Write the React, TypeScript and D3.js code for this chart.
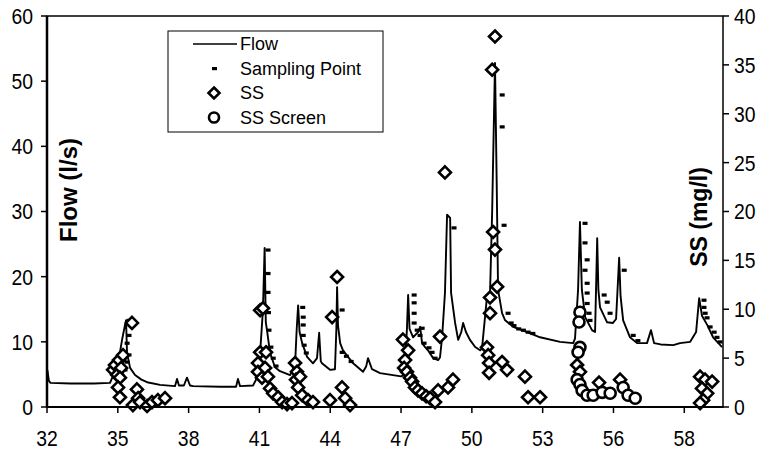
import React from "react";
import * as d3 from "d3";

// ---------- DATA ----------
// Flow (l/s) time series: [day, flow]
const flowSeries: [number, number][] = [
  [32.0, 4.0], [32.02, 5.6], [32.08, 4.0], [32.15, 3.7], [33.0, 3.6], [34.0, 3.6], [34.67, 3.7],
  [34.8, 4.8], [34.95, 6.5], [35.05, 7.5], [35.18, 10.3], [35.3, 12.5], [35.35, 13.3], [35.39, 8.3],
  [35.52, 6.0], [35.73, 4.9], [36.0, 4.2], [36.24, 3.8], [36.79, 3.4], [37.42, 3.2], [37.51, 4.3],
  [37.59, 3.3], [37.8, 3.3], [37.93, 4.5], [38.06, 3.3], [38.19, 3.2], [39.33, 3.1], [40.01, 3.1],
  [40.09, 4.3], [40.18, 3.2], [40.73, 3.3], [40.9, 4.5], [41.03, 8.3], [41.15, 15], [41.22, 24.4],
  [41.27, 13], [41.32, 11.8], [41.45, 8.3], [41.66, 6.1], [41.87, 5.5], [42.3, 4.9], [42.51, 6.5],
  [42.58, 12], [42.64, 15.6], [42.7, 11.5], [42.81, 9.8], [43.02, 7.7], [43.27, 6.7], [43.44, 7.5],
  [43.53, 11.4], [43.6, 7.0], [43.65, 6.7], [43.99, 5.7], [44.2, 5.8], [44.26, 12], [44.29, 18.4],
  [44.33, 12.5], [44.42, 9.8], [44.54, 8.7], [44.97, 6.7], [45.39, 5.4], [45.52, 6.2], [45.6, 7.5],
  [45.77, 5.8], [46.11, 5.2], [47.0, 4.7], [47.08, 4.8], [47.17, 7], [47.25, 12], [47.3, 17.2],
  [47.36, 12], [47.51, 10.7], [47.72, 11.5], [47.81, 12.3], [47.89, 9.8], [48.02, 9.2], [48.14, 8.7],
  [48.36, 7.5], [48.57, 7.2], [48.65, 7.6], [48.74, 10.7], [48.78, 13], [48.86, 17.5], [48.95, 29.5],
  [49.08, 29], [49.12, 17.5], [49.29, 12.9], [49.42, 10.3], [49.55, 11.5], [49.63, 12.9], [49.75, 11.5],
  [49.92, 10.3], [50.14, 9.2], [50.35, 8.7], [50.43, 9.0], [50.64, 16.9], [50.77, 17.5], [50.86, 30],
  [50.98, 52.8], [51.05, 35], [51.11, 18], [51.28, 14.4], [51.41, 13.3], [51.75, 12.3], [52.34, 11.5],
  [52.89, 10.7], [53.74, 10.0], [54.29, 9.8], [54.37, 10.5], [54.5, 18], [54.58, 28.4], [54.66, 18],
  [54.8, 13.8], [55.09, 11.8], [55.22, 11.5], [55.31, 25.9], [55.36, 18], [55.43, 15.3], [55.73, 13.0],
  [55.98, 12.9], [56.11, 13.5], [56.24, 22.9], [56.3, 17], [56.41, 13.3], [56.7, 10.7], [57.0, 9.8],
  [57.42, 9.8], [57.59, 11.8], [57.72, 9.8], [58.0, 9.6], [58.53, 9.5], [58.82, 9.8], [59.25, 10.0],
  [59.5, 11.5], [59.63, 16.7], [59.75, 14.0], [59.97, 12.6], [60.22, 10.7], [60.6, 9.2],
];

// Sampling points on the flow curve: [day, flow]
const samplingPoints: [number, number][] = [
  [35.39, 13.3], [35.39, 11], [35.31, 9.8], [35.39, 8.0], [35.31, 6.9], [35.22, 5.7],
  [41.28, 24.1], [41.28, 20.5], [41.28, 17.6], [41.3, 14.5], [41.32, 11.8], [41.4, 9.2], [41.5, 7.5], [41.62, 6.3],
  [42.75, 15.3], [42.77, 13.8], [42.77, 12.6], [42.77, 11.0], [42.81, 9.5], [42.9, 8.3],
  [44.42, 14.9], [44.42, 8.4], [44.6, 7.8], [44.8, 7.0],
  [47.47, 17.2], [47.47, 16.0], [47.47, 14.4], [47.47, 12.9], [47.6, 11.8], [47.81, 12.1], [47.72, 11],
  [47.89, 9.8], [48.1, 9.1], [48.23, 8.4], [48.36, 7.5],
  [49.16, 27.5],
  [51.2, 47.9], [51.2, 43], [51.28, 27.9], [51.45, 14.4], [51.58, 12.9], [51.7, 12.5], [51.9, 12.0],
  [52.1, 11.8], [52.3, 11.5], [52.5, 11.3],
  [54.71, 28.2], [54.71, 25.2], [54.8, 22.6], [54.71, 21], [54.8, 19], [54.8, 17.5], [54.8, 15.9],
  [54.88, 14.4], [54.92, 13.3],
  [55.52, 17.2], [55.65, 16.1], [55.77, 14.4],
  [56.37, 21.0], [56.75, 11], [56.95, 10.2],
  [59.75, 16.4], [59.75, 15.3], [59.8, 14.4], [59.88, 13.7], [60.01, 12.3], [60.18, 11.5], [60.3, 10.7], [60.43, 10.0],
];

// SS (mg/l), diamonds: [day, SS]
const ssPoints: [number, number][] = [
  [34.8, 3.8], [34.88, 4.3], [34.97, 3.3], [35.05, 4.8], [35.14, 4.0], [35.09, 3.0], [35.22, 5.3],
  [35.01, 2.0], [35.6, 8.6], [35.09, 1.0], [35.81, 1.8], [35.86, 0.9], [35.64, 0.2], [35.94, 0.5],
  [36.24, 0.1], [36.45, 0.5], [36.7, 0.7], [37.0, 0.9],
  [40.94, 4.5], [41.03, 9.9], [41.15, 10.1], [41.03, 5.6], [41.28, 5.6], [40.94, 3.6], [41.11, 3.0],
  [41.24, 4.0], [41.36, 3.1], [41.45, 1.9], [41.58, 1.4], [41.79, 1.0], [41.96, 0.5], [42.17, 0.3], [42.38, 0.4],
  [42.51, 4.5], [42.59, 3.6], [42.55, 2.8], [42.64, 2.0], [42.72, 3.1], [42.81, 1.2], [43.06, 0.7], [43.27, 0.5],
  [43.99, 0.7],
  [44.29, 13.3], [44.08, 9.2], [44.5, 2.0], [44.63, 0.9], [44.84, 0.2],
  [47.08, 6.9], [47.3, 5.8], [47.17, 4.8], [47.13, 4.0], [47.25, 3.6], [47.38, 3.0], [47.47, 2.6],
  [47.59, 2.0], [47.72, 1.7], [47.89, 1.4], [48.06, 1.1], [48.23, 0.9], [48.44, 0.5], [48.57, 1.7],
  [48.65, 7.2],
  [48.86, 24.0], [48.99, 2.0], [49.2, 2.8],
  [50.98, 37.9], [50.86, 34.5], [50.9, 17.9], [50.98, 16.1], [51.07, 12.3], [50.77, 11.2], [50.77, 9.6],
  [50.64, 6.1], [50.69, 5.3], [50.73, 4.5], [50.73, 3.5], [51.28, 4.6], [51.49, 3.8], [52.25, 3.1],
  [52.38, 1.0], [52.89, 1.0],
  [54.46, 4.3], [54.58, 3.6], [55.39, 2.5], [56.28, 2.8],
  [59.67, 3.1], [59.88, 2.8], [60.18, 2.6], [59.75, 1.9], [59.97, 1.4], [59.8, 0.7], [59.67, 0.4],
];

// SS Screen (mg/l), circles: [day, SS]
const ssScreenPoints: [number, number][] = [
  [54.58, 9.7], [54.54, 8.7], [54.58, 6.1], [54.5, 5.6], [54.46, 2.8], [54.58, 2.3], [54.67, 1.7],
  [54.88, 1.2], [55.14, 1.2], [55.52, 1.5], [55.86, 1.4], [56.41, 2.0], [56.62, 1.2], [56.92, 0.9],
];

const xTickValues = [32, 35, 38, 41, 44, 47, 50, 53, 56, 59];
const xTickLabels = ["32", "35", "38", "41", "44", "47", "50", "53", "56", "58"];
const yLeftTicks = [0, 10, 20, 30, 40, 50, 60];
const yRightTicks = [0, 5, 10, 15, 20, 25, 30, 35, 40];
const legendLabels = ["Flow", "Sampling Point", "SS", "SS Screen"];

// ---------- LAYOUT ----------
const W = 773;
const H = 452;
const M = { left: 47, right: 723, top: 16, bottom: 407 };
const FONT = "'Liberation Sans', Arial, Helvetica, sans-serif";
const SX = 0.88; // horizontal squeeze of the tick label glyphs

export default function App() {
  const x = d3.scaleLinear().domain([32, 60.64]).range([M.left, M.right]);
  const yL = d3.scaleLinear().domain([0, 60]).range([M.bottom, M.top]);
  const yR = d3.scaleLinear().domain([0, 40]).range([M.bottom, M.top]);

  const line = d3
    .line<[number, number]>()
    .x((d) => x(d[0]))
    .y((d) => yL(d[1]));

  const diamond = (cx: number, cy: number, r = 6) =>
    `M${cx},${cy - r}L${cx + r},${cy}L${cx},${cy + r}L${cx - r},${cy}Z`;

  const legX = 168;
  const legY = 31;
  const rowH = 24.5;

  return (
    <svg
      width={W}
      height={H}
      style={{ position: "absolute", left: 0, top: 0, background: "#fff" }}
      fontFamily={FONT}
    >
      <rect x={0} y={0} width={W} height={H} fill="#fff" />

      {/* flow line */}
      <path d={line(flowSeries) || ""} fill="none" stroke="#000" strokeWidth={1.9} strokeLinejoin="round" />

      {/* sampling points */}
      {samplingPoints.map((d, i) => (
        <rect key={"sp" + i} x={x(d[0]) - 0.5} y={yL(d[1]) - 1.5} width={5} height={3.2} fill="#000" />
      ))}

      {/* SS diamonds */}
      {ssPoints.map((d, i) => (
        <path key={"ss" + i} d={diamond(x(d[0]), yR(d[1]))} fill="#fff" stroke="#000" strokeWidth={2.6} />
      ))}

      {/* SS screen circles */}
      {ssScreenPoints.map((d, i) => (
        <circle key={"sc" + i} cx={x(d[0])} cy={yR(d[1])} r={5.5} fill="#fff" stroke="#000" strokeWidth={2.6} />
      ))}

      {/* frame */}
      <rect
        x={M.left}
        y={M.top}
        width={M.right - M.left}
        height={M.bottom - M.top}
        fill="none"
        stroke="#000"
        strokeWidth={1.5}
      />
      <line x1={M.left} x2={M.left} y1={M.top} y2={M.bottom} stroke="#000" strokeWidth={2.5} />
      <line x1={M.left} x2={M.right} y1={M.bottom} y2={M.bottom} stroke="#000" strokeWidth={2} />

      {/* left axis */}
      {yLeftTicks.map((t) => (
        <g key={"yl" + t}>
          <line x1={M.left - 6} x2={M.left} y1={yL(t)} y2={yL(t)} stroke="#000" strokeWidth={1.5} />
          <text
            transform={`translate(33,${yL(t)}) scale(${SX},1)`}
            dy="0.36em"
            textAnchor="end"
            fontSize={22}
          >
            {t}
          </text>
        </g>
      ))}

      {/* right axis */}
      {yRightTicks.map((t) => (
        <g key={"yr" + t}>
          <line x1={M.right} x2={M.right + 6} y1={yR(t)} y2={yR(t)} stroke="#000" strokeWidth={1.5} />
          <text
            transform={`translate(734,${yR(t)}) scale(${SX},1)`}
            dy="0.36em"
            textAnchor="start"
            fontSize={22}
          >
            {t}
          </text>
        </g>
      ))}

      {/* bottom axis */}
      {xTickValues.map((t, i) => (
        <g key={"x" + t}>
          <line x1={x(t)} x2={x(t)} y1={M.bottom} y2={M.bottom + 6} stroke="#000" strokeWidth={1.5} />
          <text
            transform={`translate(${x(t)},446) scale(${SX},1)`}
            textAnchor="middle"
            fontSize={22}
          >
            {xTickLabels[i]}
          </text>
        </g>
      ))}

      {/* axis titles */}
      <text
        transform={`translate(${77},${190}) rotate(-90)`}
        textAnchor="middle"
        fontSize={24}
        fontWeight="bold"
      >
        Flow (l/s)
      </text>
      <text
        transform={`translate(${707},${217}) rotate(-90)`}
        textAnchor="middle"
        fontSize={23}
        fontWeight="bold"
      >
        SS (mg/l)
      </text>

      {/* legend */}
      <g>
        <rect x={legX} y={legY} width={215} height={101} fill="#fff" stroke="#000" strokeWidth={1} />
        {legendLabels.map((lab, i) => {
          const cy = legY + 13 + i * rowH;
          return (
            <g key={lab}>
              {i === 0 && <line x1={193} x2={237} y1={cy} y2={cy} stroke="#000" strokeWidth={1.6} />}
              {i === 1 && <rect x={212} y={cy - 1.5} width={5} height={3.2} fill="#000" />}
              {i === 2 && <path d={diamond(214, cy, 5.5)} fill="#fff" stroke="#000" strokeWidth={2.6} />}
              {i === 3 && <circle cx={214} cy={cy} r={5} fill="#fff" stroke="#000" strokeWidth={2.6} />}
              <text x={240} y={cy} dy="0.36em" fontSize={18}>
                {lab}
              </text>
            </g>
          );
        })}
      </g>
    </svg>
  );
}
